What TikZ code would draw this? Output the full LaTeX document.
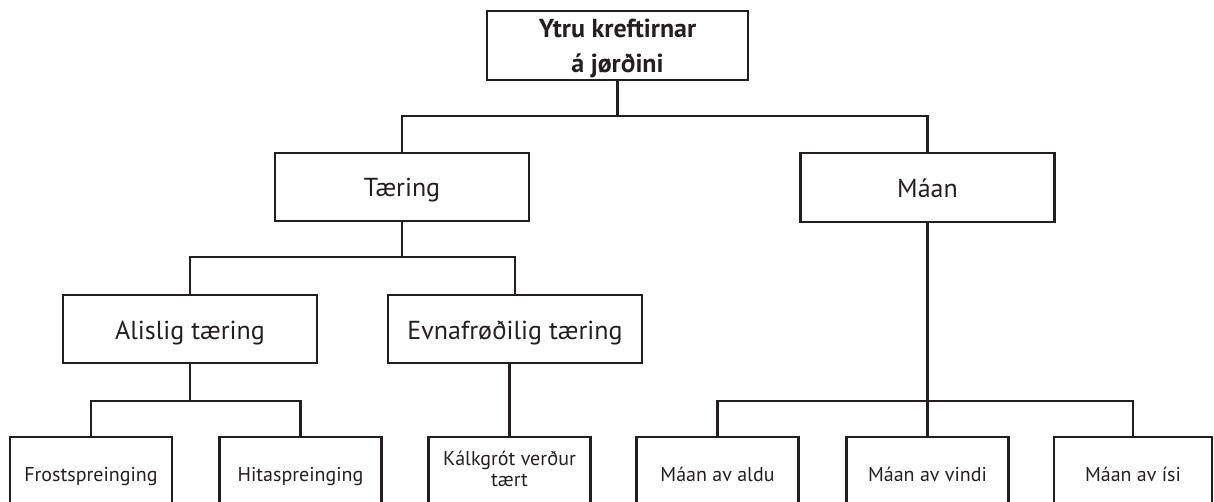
\documentclass[tikz,border=0pt]{standalone}
\usepackage{fontspec}
\setmainfont{PT Sans}
\definecolor{ink}{HTML}{231F20}
\begin{document}
\begin{tikzpicture}[x=1pt,y=-1pt,
  box/.style={draw=ink, line width=2.6pt, rectangle, inner sep=0pt, text=ink, align=center},
  bigbox/.style={box, font=\fontsize{26}{35}\selectfont, minimum width=254pt, minimum height=68pt},
  big/.style={bigbox, text height=20pt, text depth=0pt},
  smallbox/.style={box, font=\fontsize{20}{21}\selectfont, minimum width=162pt, minimum height=73pt},
  small/.style={smallbox, text height=15pt, text depth=0pt},
  wire/.style={draw=ink, line width=2.6pt}]
\useasboundingbox (0,0) rectangle (1214,502);
\clip (0,0) rectangle (1214,502);
% nodes
\node[bigbox, font=\bfseries\fontsize{26}{35}\selectfont, minimum width=261pt, minimum height=69pt] (top) at (617.5,45.5) {\rule{0pt}{25pt}Ytru kreftirnar\\á jørðini};
\node[big] (taer) at (402,187) {Tæring};
\node[big, minimum height=69pt] (maan) at (927.5,187.5) {Máan};
\node[big] (alis) at (190,329) {Alislig tæring};
\node[big] (evna) at (515,329) {Evnafrøðilig tæring};
\node[small] (frost) at (91,473.5) {Frostspreinging};
\node[small] (hita) at (300.5,473.5) {Hitaspreinging};
\node[smallbox] (kalk) at (509.5,473.5) {Kálkgrót verður\\tært\rule[-10pt]{0pt}{10pt}};
\node[small] (aldu) at (717.5,473.5) {Máan av aldu};
\node[small] (vindi) at (927.5,473.5) {Máan av vindi};
\node[small, minimum width=158pt] (isi) at (1133,473.5) {Máan av ísi};
% bus levels
\coordinate (b1) at (0,116);
\coordinate (b2) at (0,257);
\coordinate (b3) at (0,401);
% connectors
\draw[wire] (top.south) -- (top.south |- b1);
\draw[wire] (taer.north) |- (top.south |- b1) -| (maan.north);
\draw[wire] (taer.south) -- (taer.south |- b2);
\draw[wire] (alis.north) |- (taer.south |- b2) -| (evna.north);
\draw[wire] (alis.south) -- (alis.south |- b3);
\draw[wire] (frost.north) |- (alis.south |- b3) -| (hita.north);
\draw[wire] (evna.south -| kalk.north) -- (kalk.north);
\draw[wire] (maan.south) -- (vindi.north);
\draw[wire] (aldu.north) |- (vindi.north |- b3) -| (isi.north);
\end{tikzpicture}
\end{document}
